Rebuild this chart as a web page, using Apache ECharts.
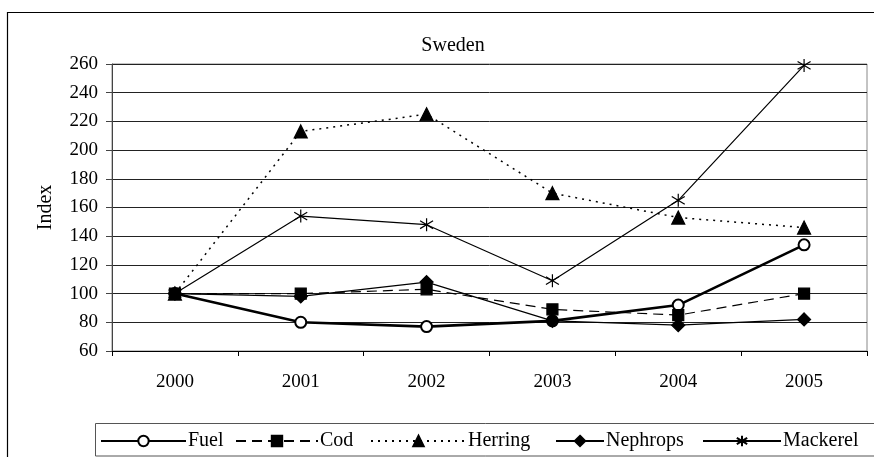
<!DOCTYPE html>
<html>
<head>
<meta charset="utf-8">
<script src="https://cdn.jsdelivr.net/npm/echarts@6/dist/echarts.min.js"></script>
<style>
  html, body { margin: 0; padding: 0; background: #fff; }
  #chart { width: 874px; height: 457px; }
</style>
</head>
<body>
<div id="chart"></div>
<script>
// Price indices (2000 = 100) for Sweden
const years = ['2000', '2001', '2002', '2003', '2004', '2005'];
const fuel     = [100, 80, 77, 81, 92, 134];
const cod      = [100, 100, 103, 89, 85, 100];
const herring  = [100, 213, 225, 170, 153, 146];
const nephrops = [100, 98, 108, 81, 78, 82];
const mackerel = [100, 154, 148, 109, 165, 259];

const serif = 'Liberation Serif';
const asterisk = 'path://M5,0 L5,10 M0,2 L10,8 M0,8 L10,2';

const seriesDefs = [
  { name: 'Fuel', data: fuel, symbol: 'emptyCircle', size: 11, line: { width: 2.6, type: 'solid' } },
  { name: 'Cod', data: cod, symbol: 'rect', size: 11, line: { width: 1.2, type: [10, 6] } },
  { name: 'Herring', data: herring, symbol: 'triangle', size: 13, line: { width: 1.5, type: [2, 5] } },
  { name: 'Nephrops', data: nephrops, symbol: 'diamond', size: 13, line: { width: 1.2, type: 'solid' } },
  { name: 'Mackerel', data: mackerel, symbol: asterisk, size: 13, line: { width: 1.2, type: 'solid' } }
];

// Legend entries laid out in one framed row at the bottom
const legendPos = [
  { left: 100, width: 85 },
  { left: 235, width: 82 },
  { left: 370, width: 95 },
  { left: 555, width: 48 },
  { left: 702, width: 78 }
];

const chart = echarts.init(document.getElementById('chart'), null, { renderer: 'canvas' });

chart.setOption({
  backgroundColor: '#fff',
  animation: false,
  title: {
    text: 'Sweden',
    left: 448,
    top: 31,
    textAlign: 'center',
    textStyle: { fontFamily: serif, fontSize: 20, fontWeight: 'normal', color: '#000' }
  },
  graphic: [
    { type: 'rect', shape: { x: 7.5, y: 12.5, width: 900, height: 460 },
      style: { fill: 'none', stroke: '#000', lineWidth: 1.2 }, silent: true, z: -10 },
    { type: 'rect', shape: { x: 95.5, y: 423.5, width: 800, height: 32.5 },
      style: { fill: 'none', stroke: '#555', lineWidth: 1 }, silent: true, z: -10 }
  ],
  legend: seriesDefs.map((s, i) => ({
    data: [s.name],
    left: legendPos[i].left,
    top: 431,
    itemWidth: legendPos[i].width,
    itemHeight: 13,
    itemGap: 0,
    padding: 0,
    selectedMode: false,
    textStyle: { fontFamily: serif, fontSize: 20, color: '#000', padding: [0, 0, 0, -3] }
  })),
  grid: {
    left: 112, right: 7, top: 64, bottom: 106,
    show: true, borderColor: '#888', borderWidth: 1
  },
  xAxis: {
    type: 'category',
    data: years,
    boundaryGap: true,
    axisLine: { lineStyle: { color: '#000', width: 1 } },
    axisTick: { show: true, length: 5, lineStyle: { color: '#000' } },
    axisLabel: { fontFamily: serif, fontSize: 19, color: '#000', margin: 22 }
  },
  yAxis: {
    type: 'value',
    min: 60, max: 260, interval: 20,
    name: 'Index',
    nameLocation: 'middle',
    nameGap: 56,
    nameRotate: 90,
    nameTextStyle: { fontFamily: serif, fontSize: 20, color: '#000' },
    axisLine: { show: true, lineStyle: { color: '#444', width: 1 } },
    axisTick: { show: true, inside: false, length: 6, lineStyle: { color: '#444' } },
    axisLabel: { fontFamily: serif, fontSize: 19, color: '#000', margin: 14 },
    splitLine: { show: true, lineStyle: { color: '#222', width: 1 } }
  },
  series: seriesDefs.map(s => ({
    name: s.name,
    type: 'line',
    data: s.data,
    symbol: s.symbol,
    symbolSize: s.size,
    showAllSymbol: true,
    lineStyle: { color: '#000', width: s.line.width, type: s.line.type },
    itemStyle: { color: '#000', borderColor: '#000', borderWidth: 1.2 },
    emphasis: { disabled: true }
  }))
});
</script>
</body>
</html>
